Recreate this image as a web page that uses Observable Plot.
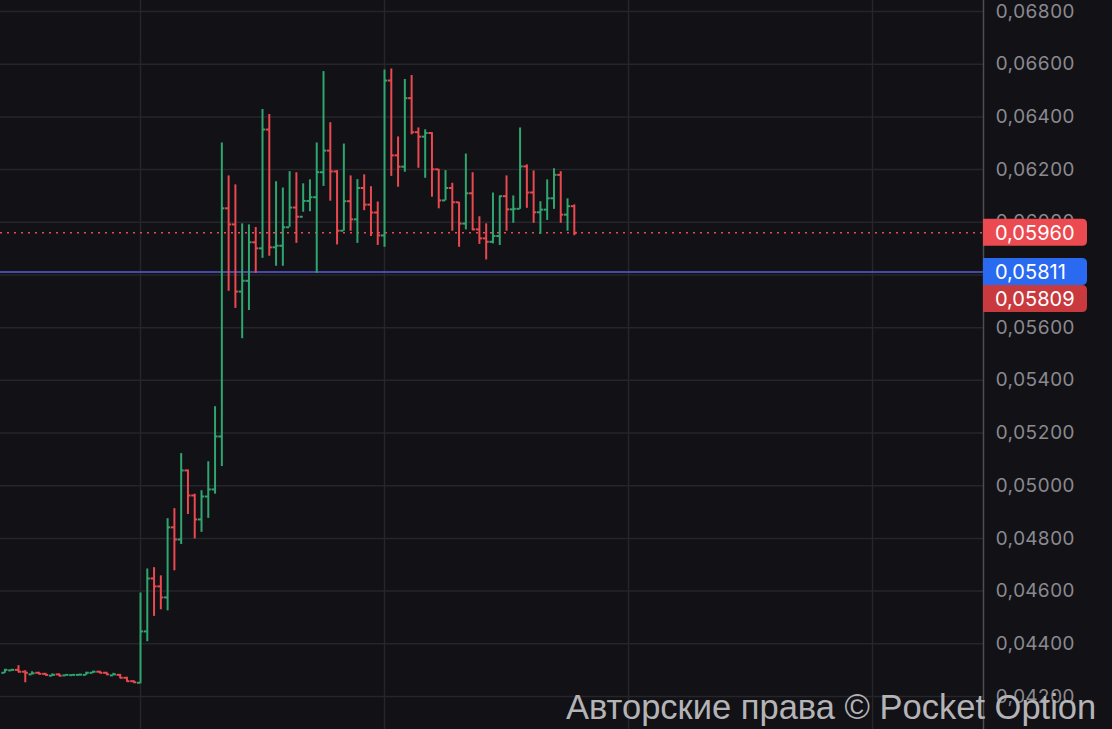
<!DOCTYPE html>
<html><head><meta charset="utf-8">
<script src="https://cdn.jsdelivr.net/npm/d3@7"></script>
<script src="https://cdn.jsdelivr.net/npm/@observablehq/plot@0.6"></script>
<style>
html,body{margin:0;padding:0;background:#121116;overflow:hidden}
#chart{width:1112px;height:729px}
</style></head><body>
<div id="chart"></div>
<script>
// ---- data (bar order: first bar has index -20; bar 0 is the breakout bar) ----
const firstBarIndex = -20;
const opens = [
0.0429, 0.04299, 0.04301, 0.04294, 0.04284, 0.0429, 0.04286, 0.04279, 0.04284, 0.0428,
0.04281, 0.04282, 0.04282, 0.0429, 0.04294, 0.0429, 0.0428, 0.04282, 0.04271, 0.04258,
0.04252, 0.04447, 0.04648, 0.04618, 0.04576, 0.04842, 0.04796, 0.05058, 0.04963, 0.04872,
0.04959, 0.04986, 0.05187, 0.06053, 0.05992, 0.05737, 0.05778, 0.05924, 0.05901, 0.06352,
0.05905, 0.05911, 0.05981, 0.06056, 0.06021, 0.06081, 0.06095, 0.0619, 0.06272, 0.06193,
0.05968, 0.0608, 0.06011, 0.0613, 0.06067, 0.06037, 0.0595, 0.06538, 0.06254, 0.06211,
0.06471, 0.06342, 0.06325, 0.06339, 0.06201, 0.06083, 0.0613, 0.06076, 0.05995, 0.0611,
0.05973, 0.05939, 0.05926, 0.05948, 0.06099, 0.06049, 0.06051, 0.06212, 0.06113, 0.06038,
0.06048, 0.06091, 0.0618, 0.06029, 0.06061
];
const highs = [
0.04303, 0.04303, 0.04317, 0.04298, 0.04294, 0.04292, 0.04288, 0.04286, 0.04286, 0.04283,
0.04283, 0.04284, 0.04292, 0.04296, 0.04296, 0.04292, 0.04288, 0.04284, 0.04273, 0.0426,
0.04593, 0.04684, 0.04689, 0.04658, 0.04875, 0.04913, 0.05122, 0.0506, 0.04968, 0.04981,
0.05091, 0.053, 0.06301, 0.06176, 0.06142, 0.05994, 0.0599, 0.0598, 0.06428, 0.06409,
0.06154, 0.0613, 0.06192, 0.06188, 0.06146, 0.06161, 0.06301, 0.06572, 0.06378, 0.06196,
0.06297, 0.06176, 0.06162, 0.0618, 0.06135, 0.06077, 0.06578, 0.06582, 0.06324, 0.06542,
0.06557, 0.06358, 0.06351, 0.0634, 0.06201, 0.06196, 0.06148, 0.06076, 0.06259, 0.06188,
0.06021, 0.05994, 0.06111, 0.06099, 0.06176, 0.061, 0.06358, 0.06218, 0.06195, 0.06078,
0.06161, 0.06203, 0.06192, 0.06089, 0.06066
];
const lows = [
0.04288, 0.04298, 0.0429, 0.04252, 0.04282, 0.04284, 0.04279, 0.04277, 0.04277, 0.04279,
0.0428, 0.04281, 0.0428, 0.04288, 0.04288, 0.04282, 0.04279, 0.04269, 0.04256, 0.04252,
0.04248, 0.04408, 0.04504, 0.04529, 0.04525, 0.04677, 0.04777, 0.04891, 0.04798, 0.04823,
0.04876, 0.04968, 0.05073, 0.05738, 0.05673, 0.05558, 0.05665, 0.05806, 0.05863, 0.05871,
0.05833, 0.05833, 0.05981, 0.0592, 0.06038, 0.0604, 0.05806, 0.06136, 0.0608, 0.05914,
0.05966, 0.05966, 0.0592, 0.06044, 0.05946, 0.05912, 0.05905, 0.06174, 0.06133, 0.0619,
0.06332, 0.06205, 0.06167, 0.06095, 0.06051, 0.06081, 0.05966, 0.05905, 0.05971, 0.05968,
0.05916, 0.05857, 0.05918, 0.05912, 0.05966, 0.05996, 0.06049, 0.06053, 0.05996, 0.05954,
0.06007, 0.06049, 0.05996, 0.05966, 0.05949
];
const closes = [
0.04301, 0.04301, 0.04294, 0.0429, 0.04288, 0.04286, 0.04282, 0.04282, 0.04279, 0.04282,
0.04282, 0.04283, 0.0429, 0.04294, 0.0429, 0.04284, 0.04284, 0.04271, 0.04258, 0.04254,
0.04447, 0.04648, 0.04618, 0.04576, 0.04842, 0.04796, 0.05058, 0.04963, 0.04872, 0.04959,
0.04986, 0.05187, 0.06053, 0.05992, 0.05737, 0.05778, 0.05924, 0.05901, 0.06352, 0.05905,
0.05911, 0.05981, 0.06056, 0.06021, 0.06081, 0.06095, 0.0619, 0.06272, 0.06193, 0.05968,
0.0608, 0.06011, 0.0613, 0.06067, 0.06037, 0.0595, 0.06538, 0.06254, 0.06211, 0.06471,
0.06342, 0.06325, 0.06339, 0.06201, 0.06083, 0.0613, 0.06076, 0.05995, 0.0611, 0.05973,
0.05939, 0.05926, 0.05948, 0.06099, 0.06049, 0.06051, 0.06212, 0.06113, 0.06038, 0.06048,
0.06091, 0.0618, 0.06029, 0.06061, 0.0596
];
const yTicks = [0.042, 0.044, 0.046, 0.048, 0.050, 0.052, 0.054, 0.056, 0.058, 0.060, 0.062, 0.064, 0.066, 0.068];
// the 0,05800 label sits fully under the price tags in the reference
const yTickLabels = [0.042, 0.044, 0.046, 0.048, 0.050, 0.052, 0.054, 0.056, 0.060, 0.062, 0.064, 0.066, 0.068];
const timeGridBars = [0, 36, 72, 108];
const lastPrice = 0.0596;
const lineLevel = 0.05811;
const bidLevel = 0.05809;
const watermark = "Авторские права © Pocket Option";

// ---- build ----
const bars = opens.map((o, k) => ({i: firstBarIndex + k, open: o, high: highs[k], low: lows[k], close: closes[k]}));
const dir = d => d.close >= d.open ? "up" : "down";
const GREEN = "#2fa66f", RED = "#e9494f", BG = "#121116", GRID = "#25252a";
const fmt = v => v.toFixed(5).replace(".", ",");
const half = 0.45;

const plot = Plot.plot({
  width: 1112, height: 729,
  marginLeft: 0, marginRight: 129, marginTop: 0, marginBottom: 0,
  style: {background: BG, fontFamily: "Inter, 'Noto Sans', sans-serif"},
  x: {domain: [-20.655, 124.37], axis: null},
  y: {domain: [0.040747, 0.068418], axis: null},
  color: {domain: ["up", "down"], range: [GREEN, RED]},
  marks: [
    Plot.gridY(yTicks, {stroke: GRID, strokeOpacity: 1, strokeWidth: 1.5}),
    Plot.ruleX(timeGridBars, {stroke: GRID, strokeWidth: 1.5}),
    Plot.axisY(yTickLabels, {anchor: "right", tickSize: 0, tickPadding: 12, tickFormat: fmt, fontSize: 19, fill: "#8a8a90", textAnchor: "start"}),
    Plot.ruleY([lastPrice], {stroke: RED, strokeDasharray: "2,5", strokeWidth: 1.5}),
    Plot.ruleY([lineLevel], {stroke: "#5a5bd8", strokeWidth: 1.6}),
    Plot.ruleX(bars, {x: "i", y1: "low", y2: "high", stroke: dir, strokeWidth: 2}),
    Plot.ruleY(bars, {y: "open", x1: d => d.i - half, x2: "i", stroke: dir, strokeWidth: 2}),
    Plot.ruleY(bars, {y: "close", x1: "i", x2: d => d.i + half, stroke: dir, strokeWidth: 2}),
    Plot.frame({anchor: "right", stroke: "#4d4d53", strokeWidth: 1.5})
  ]
});
document.getElementById("chart").appendChild(plot);

// ---- price tags on the right axis ----
const svg = d3.select(plot);
const ys = plot.scale("y");
const xr = plot.scale("x").range[1];
const tagW = 104, tagH = 27, r = 5;
function tag(cy, label, color) {
  const top = cy - tagH / 2;
  const g = svg.append("g");
  g.append("path")
    .attr("d", `M${xr},${top} H${xr + tagW - r} Q${xr + tagW},${top} ${xr + tagW},${top + r} V${top + tagH - r} Q${xr + tagW},${top + tagH} ${xr + tagW - r},${top + tagH} H${xr} Z`)
    .attr("fill", color);
  g.append("text").attr("x", xr + 12).attr("y", cy).attr("dy", "0.36em")
    .attr("text-anchor", "start")
    .attr("fill", "#ffffff").attr("font-size", 20).attr("font-family", "Inter, 'Noto Sans', sans-serif")
    .text(label);
  return top + tagH;
}
tag(ys.apply(lastPrice), fmt(lastPrice), "#ec4a51");
const bottom = tag(ys.apply(lineLevel), fmt(lineLevel), "#2a6af1");
tag(bottom + tagH / 2, fmt(bidLevel), "#c93a3f");

// ---- watermark ----
svg.append("text").attr("x", 566).attr("y", 719)
  .attr("text-anchor", "start")
  .attr("fill", "#b4b4b7").attr("font-size", 34.5)
  .attr("font-family", "'Liberation Sans', Arial, sans-serif")
  .text(watermark);
</script>
</body></html>
